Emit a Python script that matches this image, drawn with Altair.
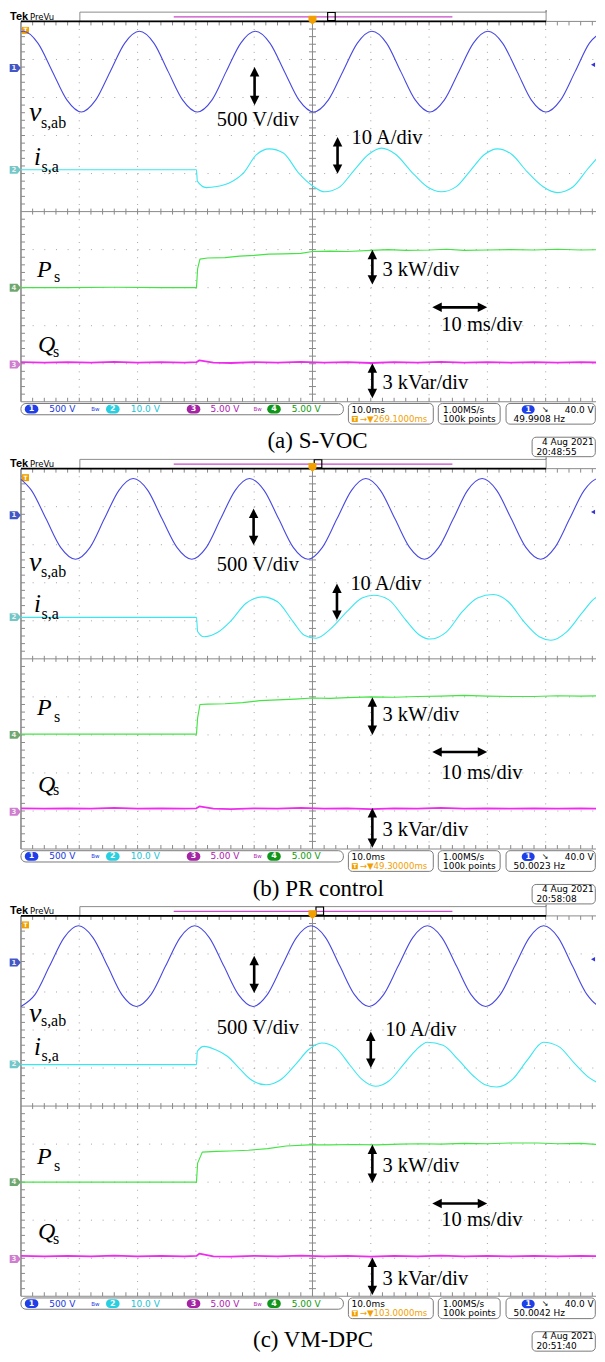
import altair as alt
import pandas as pd

# ======================= values read from the three scope screens =======================
# x: time in ms (10 ms/div, 0..100 ms across the 10 divisions)
# y: screen divisions (centre line = 0, top = +5, bottom = -5)

# ---- (a) S-VOC ----
A_V_T = [0.0, 0.4, 2.9, 5.4, 7.9, 10.35, 12.8, 15.3, 17.8, 20.3,
         22.8, 25.25, 27.75, 30.25, 32.75, 35.2, 37.7, 40.2,
         42.7, 45.2, 47.7, 50.2, 52.7, 55.2, 57.7, 60.2,
         62.7, 65.15, 67.65, 70.15, 72.6, 75.1, 77.6, 80.1,
         82.6, 85.1, 87.55, 90.05, 92.55, 95.05, 97.5, 99.8]
A_V_Y = [4.73, 4.74, 4.43, 3.68, 2.93, 2.62, 2.93, 3.68, 4.43, 4.74,
         4.43, 3.68, 2.93, 2.62, 2.93, 3.68, 4.43, 4.74,
         4.43, 3.68, 2.93, 2.62, 2.93, 3.68, 4.43, 4.74,
         4.43, 3.68, 2.93, 2.62, 2.93, 3.68, 4.43, 4.74,
         4.43, 3.68, 2.93, 2.62, 2.93, 3.68, 4.43, 4.73]
A_I_T = [0.0, 30.1, 30.25, 31.8, 33.6, 35.8, 38.3, 40.4, 42.6, 45.0, 47.6, 50.0,
         52.1, 54.5, 57.1, 59.6, 61.8, 64.3, 66.9, 69.6, 72.1, 74.6, 77.1, 79.5,
         81.7, 84.2, 86.8, 89.5, 92.0, 94.6, 97.2, 99.8]
A_I_Y = [1.10, 1.10, 0.80, 0.63, 0.66, 0.76, 1.04, 1.50, 1.65, 1.54, 1.02, 0.68,
         0.52, 0.63, 1.08, 1.50, 1.67, 1.50, 1.06, 0.66, 0.52, 0.65, 1.08, 1.50,
         1.65, 1.50, 1.05, 0.66, 0.50, 0.64, 1.12, 1.58]
A_P_T = [0.0, 8.0, 16.0, 24.0, 30.1, 30.3, 30.7, 32.0, 35.0, 37.5, 40.0, 42.5, 45.0,
         48.0, 50.0, 53.0, 56.0, 60.0, 63.0, 66.0, 70.0, 73.0, 76.0, 80.0, 84.0,
         88.0, 92.0, 96.0, 99.8]
A_P_Y = [-2.00, -2.00, -1.99, -2.00, -2.00, -1.50, -1.25, -1.22, -1.21, -1.17, -1.15,
         -1.12, -1.11, -1.10, -1.05, -1.04, -1.05, -1.02, -1.00, -1.02, -1.01, -0.99,
         -1.02, -1.01, -1.00, -1.01, -0.99, -1.01, -1.00]
A_Q_T = [0.0, 4.0, 8.0, 12.0, 16.0, 20.0, 24.0, 28.0, 30.1, 30.6, 33.0, 36.0, 40.0,
         44.0, 48.0, 52.0, 56.0, 60.0, 64.0, 68.0, 72.0, 76.0, 80.0, 84.0, 88.0,
         92.0, 96.0, 99.8]
A_Q_Y = [-3.96, -3.97, -3.96, -3.97, -3.95, -3.97, -3.96, -3.97, -3.96, -3.91, -3.97,
         -3.98, -3.96, -3.97, -3.95, -3.97, -3.96, -3.98, -3.96, -3.97, -3.95, -3.97,
         -3.96, -3.97, -3.96, -3.97, -3.96, -3.97]

# ---- (b) PR control ----
B_V_T = [0.0, 1.8, 4.3, 6.8, 9.35, 11.85, 14.3, 16.8, 19.25,
         21.75, 24.2, 26.75, 29.3, 31.8, 34.25, 36.75, 39.2,
         41.7, 44.2, 46.7, 49.25, 51.7, 54.2, 56.7, 59.15,
         61.65, 64.15, 66.65, 69.2, 71.65, 74.15, 76.6, 79.1,
         81.6, 84.1, 86.6, 89.15, 91.6, 94.1, 96.6, 99.05, 99.8]
B_V_Y = [4.72, 4.43, 3.68, 2.93, 2.62, 2.93, 3.68, 4.43, 4.74,
         4.43, 3.68, 2.93, 2.62, 2.93, 3.68, 4.43, 4.74,
         4.43, 3.68, 2.93, 2.62, 2.93, 3.68, 4.43, 4.74,
         4.43, 3.68, 2.93, 2.62, 2.93, 3.68, 4.43, 4.74,
         4.43, 3.68, 2.93, 2.62, 2.93, 3.68, 4.43, 4.74, 4.73]
B_I_T = [0.0, 30.1, 30.3, 31.4, 33.9, 35.9, 38.6, 41.4, 44.0, 46.7, 48.6, 50.6,
         53.2, 55.9, 58.5, 60.5, 63.1, 65.8, 68.4, 70.1, 73.0, 75.7, 78.3, 81.0,
         83.6, 86.3, 88.9, 90.9, 93.6, 96.2, 98.5, 99.8]
B_I_Y = [1.09, 1.09, 0.72, 0.58, 0.71, 0.98, 1.46, 1.63, 1.50, 0.97, 0.62, 0.54,
         0.80, 1.24, 1.60, 1.67, 1.55, 1.06, 0.62, 0.52, 0.71, 1.24, 1.60, 1.69,
         1.50, 0.97, 0.58, 0.49, 0.71, 1.20, 1.60, 1.67]
B_P_T = [0.0, 10.0, 20.0, 30.1, 30.3, 30.7, 32.0, 35.0, 38.0, 41.0, 44.0, 47.0, 50.0,
         53.0, 56.0, 60.0, 64.0, 68.0, 72.0, 76.0, 80.0, 84.0, 88.0, 92.0, 96.0, 99.8]
B_P_Y = [-1.98, -1.98, -1.98, -1.98, -1.55, -1.20, -1.19, -1.18, -1.15, -1.10, -1.08,
         -1.06, -1.03, -1.04, -1.02, -1.00, -1.01, -0.99, -0.98, -0.96, -0.98, -0.99,
         -0.99, -0.97, -0.98, -0.97]
B_Q_T = [0.0, 4.0, 8.0, 12.0, 16.0, 20.0, 24.0, 28.0, 30.1, 30.6, 33.0, 36.0, 40.0,
         44.0, 48.0, 52.0, 56.0, 60.0, 64.0, 68.0, 72.0, 76.0, 80.0, 84.0, 88.0,
         92.0, 96.0, 99.8]
B_Q_Y = [-3.93, -3.94, -3.93, -3.94, -3.92, -3.94, -3.93, -3.94, -3.93, -3.88, -3.94,
         -3.95, -3.93, -3.94, -3.92, -3.94, -3.93, -3.95, -3.93, -3.94, -3.92, -3.94,
         -3.93, -3.94, -3.93, -3.94, -3.93, -3.94]

# ---- (c) VM-DPC ----
C_V_T = [0.0, 2.4, 4.9, 7.4, 9.85, 12.35, 14.85, 17.3, 19.8,
         22.3, 24.8, 27.3, 29.8, 32.3, 34.8, 37.3, 39.8,
         42.25, 44.75, 47.25, 49.75, 52.25, 54.7, 57.2, 59.7,
         62.2, 64.7, 67.2, 69.7, 72.2, 74.7, 77.2, 79.7,
         82.2, 84.7, 87.2, 89.65, 92.15, 94.6, 97.1, 99.6, 99.8]
C_V_Y = [2.62, 2.93, 3.68, 4.43, 4.74, 4.43, 3.68, 2.93, 2.62,
         2.93, 3.68, 4.43, 4.74, 4.43, 3.68, 2.93, 2.62,
         2.93, 3.68, 4.43, 4.74, 4.43, 3.68, 2.93, 2.62,
         2.93, 3.68, 4.43, 4.74, 4.43, 3.68, 2.93, 2.62,
         2.93, 3.68, 4.43, 4.74, 4.43, 3.68, 2.93, 2.62, 2.62]
C_I_T = [0.0, 30.1, 30.25, 31.4, 33.4, 35.4, 37.4, 39.4, 42.0, 44.6, 47.3, 49.3,
         51.6, 54.0, 56.5, 58.5, 60.8, 63.1, 65.8, 67.8, 69.7, 72.4, 75.0, 77.6,
         79.6, 81.6, 84.3, 86.9, 89.6, 92.2, 94.9, 97.5, 99.8]
C_I_Y = [1.09, 1.09, 1.44, 1.57, 1.48, 1.31, 1.00, 0.70, 0.56, 0.70, 1.13, 1.48,
         1.66, 1.53, 1.06, 0.70, 0.52, 0.66, 1.13, 1.48, 1.68, 1.60, 1.22, 0.79,
         0.56, 0.50, 0.70, 1.22, 1.68, 1.57, 1.13, 0.74, 0.56]
C_P_T = [0.0, 10.0, 20.0, 30.1, 30.3, 31.1, 33.5, 36.0, 39.0, 42.3, 45.5, 49.4, 53.0,
         57.0, 61.0, 65.0, 68.6, 72.0, 76.0, 80.0, 84.0, 88.6, 92.0, 96.0, 99.7]
C_P_Y = [-2.00, -2.00, -2.00, -2.00, -1.50, -1.21, -1.19, -1.18, -1.16, -1.12, -1.05,
         -1.02, -1.02, -1.01, -1.02, -1.00, -0.99, -1.00, -0.98, -0.99, -0.97, -0.97,
         -0.99, -0.98, -1.02]
C_Q_T = [0.0, 4.0, 8.0, 12.0, 16.0, 20.0, 24.0, 28.0, 30.1, 30.6, 33.0, 36.0, 40.0,
         44.0, 48.0, 52.0, 56.0, 60.0, 64.0, 68.0, 72.0, 76.0, 80.0, 84.0, 88.0,
         92.0, 96.0, 99.8]
C_Q_Y = [-3.94, -3.95, -3.94, -3.95, -3.93, -3.95, -3.94, -3.95, -3.94, -3.88, -3.95,
         -3.96, -3.94, -3.95, -3.93, -3.95, -3.94, -3.96, -3.94, -3.95, -3.93, -3.95,
         -3.94, -3.95, -3.94, -3.95, -3.94, -3.95]

CAPTIONS = ["(a) S-VOC", "(b) PR control", "(c) VM-DPC"]
TRIG_POS = ["269.1000ms", "49.30000ms", "103.0000ms"]
FREQS = ["49.9908 Hz", "50.0023 Hz", "50.0042 Hz"]
DATES = ["4 Aug 2021", "4 Aug 2021", "4 Aug 2021"]
CLOCKS = ["20:48:55", "20:58:08", "20:51:40"]
CH_NUM = ["1", "2", "3", "4"]
CH_SCALE = ["500 V", "10.0 V", "5.00 V", "5.00 V"]
TIMEBASE = "10.0ms"
SAMPLE_RATE = "1.00MS/s"
RECORD = "100k points"
TRIG_LEVEL = "40.0 V"
DIV_LABELS = ["500 V/div", "10 A/div", "3 kW/div", "10 ms/div", "3 kVar/div"]

SERIES = [
    (A_V_T, A_V_Y, A_I_T, A_I_Y, A_P_T, A_P_Y, A_Q_T, A_Q_Y),
    (B_V_T, B_V_Y, B_I_T, B_I_Y, B_P_T, B_P_Y, B_Q_T, B_Q_Y),
    (C_V_T, C_V_Y, C_I_T, C_I_Y, C_P_T, C_P_Y, C_Q_T, C_Q_Y),
]
for s in SERIES:
    for k in range(0, 8, 2):
        assert len(s[k]) == len(s[k + 1])

# ======================= geometry =======================
W = 589            # 8px page margin on both sides inside a 605px window
HP = 448
PXD = 38.1         # px per vertical division
PXT = 5.84         # px per ms
X0 = -13 / PXT
X1 = X0 + W / PXT  # right edge of the visible screen (slightly before 100 ms)
Y_TOP = 5 + 11.3 / PXD
Y_BOT = Y_TOP - HP / PXD


def dy(px):
    return px / PXD


def dx(px):
    return px / PXT


def below(px):      # px below the graticule bottom
    return -5 - dy(px)


def frm_top(px):    # px below the graticule top
    return 5 - dy(px)


XS = alt.Scale(domain=[X0, X1], nice=False, zero=False)
YS = alt.Scale(domain=[Y_BOT, Y_TOP], nice=False, zero=False)


def xq():
    return alt.X("x:Q", scale=XS, axis=None)


def yq():
    return alt.Y("y:Q", scale=YS, axis=None)


def rule_layer(rows, **kw):
    df = pd.DataFrame(rows, columns=["x", "x2", "y", "y2"])
    return alt.Chart(df).mark_rule(**kw).encode(x=xq(), x2=alt.X2("x2"), y=yq(), y2=alt.Y2("y2"))


def rect_layer(rows, **kw):
    df = pd.DataFrame(rows, columns=["x", "x2", "y", "y2"])
    return alt.Chart(df).mark_rect(**kw).encode(x=xq(), x2=alt.X2("x2"), y=yq(), y2=alt.Y2("y2"))


def point_layer(rows, **kw):
    df = pd.DataFrame(rows, columns=["x", "y"])
    kw.setdefault("opacity", 1)
    kw.setdefault("filled", True)
    kw.setdefault("strokeWidth", 0)
    return alt.Chart(df).mark_point(**kw).encode(x=xq(), y=yq())


def text_layer(rows, **kw):
    df = pd.DataFrame(rows, columns=["x", "y", "t"])
    kw.setdefault("align", "left")
    kw.setdefault("baseline", "middle")
    return alt.Chart(df).mark_text(**kw).encode(x=xq(), y=yq(), text="t:N")


def line_layer(ts, ys, color, width, interp):
    df = pd.DataFrame({"x": ts, "y": ys})
    return alt.Chart(df).mark_line(color=color, strokeWidth=width, interpolate=interp,
                                   strokeJoin="round", clip=True).encode(x=xq(), y=yq())


UP = "M0,0L1,2L-1,2Z"
DOWN = "M0,0L1,-2L-1,-2Z"
LEFT = "M0,0L2,-1L2,1Z"
RIGHT = "M0,0L-2,-1L-2,1Z"
HEAD = 90


def varrow(x, yt, yb):
    return [
        rule_layer([(x, x, yt - dy(5), yb + dy(5))], color="black", strokeWidth=2.6),
        point_layer([(x, yt)], shape=UP, size=HEAD, color="black"),
        point_layer([(x, yb)], shape=DOWN, size=HEAD, color="black"),
    ]


def harrow(xl, xr, y):
    return [
        rule_layer([(xl + dx(5), xr - dx(5), y, y)], color="black", strokeWidth=2.6),
        point_layer([(xl, y)], shape=LEFT, size=HEAD, color="black"),
        point_layer([(xr, y)], shape=RIGHT, size=HEAD, color="black"),
    ]


LAYOUT = [
    dict(vtxt=2.41, varr=(40.07, 3.80, 2.795), atxt=(56.7, 1.937), aarr=(54.3, 1.963, 0.992),
         ptxt=-1.53, parr=(-1.003, -1.92), mstxt=-2.97, msarr=-2.517, qtxt=-4.51,
         qarr=(-3.987, -4.906), v=2.37, vs=2.20, i=1.228, isub=1.03, P=-1.711, Ps=-1.843,
         Q=-3.68, Qs=-3.81, cap=(50.86, below(46.4)), brk=(52.6, 53.9)),
    dict(vtxt=2.46, varr=(39.9, 3.95, 2.99), atxt=(56.5, 1.98), aarr=(54.2, 1.98, 1.02),
         ptxt=-1.48, parr=(-1.01, -2.0), mstxt=-3.0, msarr=-2.45, qtxt=-4.5,
         qarr=(-3.92, -4.97), v=2.30, vs=2.155, i=1.236, isub=1.04, P=-1.475, Ps=-1.65,
         Q=-3.49, Qs=-3.575, cap=(51.0, below(47.4)), brk=(50.3, 51.6)),
    dict(vtxt=2.05, varr=(40.0, 3.95, 2.97), atxt=(62.5, 1.99), aarr=(60.0, 1.96, 1.0),
         ptxt=-1.58, parr=(-1.01, -2.02), mstxt=-3.0, msarr=-2.56, qtxt=-4.55,
         qarr=(-3.98, -4.97), v=2.20, vs=2.095, i=1.35, isub=1.176, P=-1.535, Ps=-1.711,
         Q=-3.50, Qs=-3.635, cap=(50.1, below(50.5)), brk=(50.6, 51.9)),
]

GRID = "#a3a3a3"
FRAME = "#8a8a8a"
SERIF = "Liberation Serif"
SANS = "DejaVu Sans"
ORANGE = "#f2a000"
CH_TEXT = ["#2038e0", "#18c4d4", "#b020b0", "#109a10"]
CH_FILL = ["#1f3fe8", "#28cfe0", "#a424a4", "#10961a"]
TRACE = {"v": "#4848e2", "i": "#3ae6f0", "p": "#45e445", "q": "#ee2cee"}


def panel(k):
    vt, vy, it, iy, pt, py, qt, qy = SERIES[k]
    lay = LAYOUT[k]
    L = []

    # ---- graticule ----
    L.append(rule_layer([(t, t, 5, -5) for t in [10, 20, 30, 40, 60, 70, 80, 90]],
                        color=GRID, strokeWidth=1, strokeDash=[1, PXD / 5 - 1]))
    L.append(rule_layer([(0, X1, y, y) for y in [-4, -3, -2, -1, 1, 2, 3, 4]],
                        color=GRID, strokeWidth=1, strokeDash=[1, 10.68]))
    ticks = []
    minor_t = [2 * j for j in range(1, 50)]
    minor_y = [round(0.2 * j, 1) for j in range(-24, 25) if j != 0]
    for t in minor_t:
        if t > X1:
            continue
        ticks.append((t, t, -dy(3), dy(3)))
        ticks.append((t, t, -5, -5 + dy(4)))
        ticks.append((t, t, 5, 5 - dy(4)))
    for y in minor_y:
        ticks.append((50 - dx(3.5), 50 + dx(3.5), y, y))
        ticks.append((0, dx(4), y, y))
    L.append(rule_layer(ticks, color=FRAME, strokeWidth=1))
    L.append(rule_layer([(50, 50, 5, -5), (0, X1, 0, 0), (0, X1, -5, -5), (90.07, X1, 5, 5)],
                        color=FRAME, strokeWidth=1))
    L.append(rule_layer([(0, 0, 5, -5)], color=FRAME, strokeWidth=1.6))

    # ---- top record bar ----
    bar_top = 5 + dy(9.3)
    L.append(rect_layer([(10.1, 90.07, 5, bar_top)], fill="white", stroke="#8c8c8c", strokeWidth=1))
    L.append(rule_layer([(26.2, 74.0, 5 + dy(4.6), 5 + dy(4.6))], color="#c848c8", strokeWidth=1.2))
    L.append(rule_layer([(0, 90.07, 5, 5)], color="black", strokeWidth=1.6))
    L.append(rule_layer([(90.07, 90.07, bar_top, Y_TOP)], color="#555555", strokeWidth=1))
    b0, b1 = lay["brk"]
    L.append(rect_layer([(b0, b1, 5.02, bar_top - 0.01)], fill="white", fillOpacity=0,
                        stroke="black", strokeWidth=1.2))
    L.append(point_layer([(50, 5 + dy(1.3))], shape="M-1,-1.1L1,-1.1L1,0.2L0,1.1L-1,0.2Z",
                         size=64, color=ORANGE))
    L.append(text_layer([(-1.88, 5 + dy(4.6), "Tek")], font="Liberation Sans", fontSize=11,
                        fontWeight="bold", color="black"))
    L.append(text_layer([(1.54, 5 + dy(4.6), "PreVu")], font=SANS, fontSize=8.5, color="black"))
    L.append(point_layer([(0.77, frm_top(9))], shape="square", size=49, color=ORANGE))
    L.append(text_layer([(0.77, frm_top(9), "T")], font=SANS, fontSize=6, fontWeight="bold",
                        color="white", align="center"))

    # ---- channel reference markers ----
    marker = "M-1,-0.75L0.45,-0.75L1.1,0L0.45,0.75L-1,0.75Z"
    mk = [(frm_top(46.7), "1", "#4357c6"), (frm_top(148.7), "2", "#72c8c8"),
          (frm_top(266.7), "4", "#6fa86f"), (frm_top(343.7), "3", "#d07cd0")]
    for yv, num, col in mk:
        L.append(point_layer([(-1.03, yv)], shape=marker, size=112, color=col))
        L.append(text_layer([(-1.2, yv, num)], font=SANS, fontSize=7, fontWeight="bold",
                            color="#eeeeee", align="center"))
    L.append(point_layer([(X1 - dx(3), frm_top(43.4))], shape="triangle-left", size=22, color="#3636d6"))

    # ---- traces ----
    L.append(line_layer(vt, vy, TRACE["v"], 1.1, "monotone"))
    L.append(line_layer(it, iy, TRACE["i"], 1.1, "monotone"))
    L.append(line_layer(pt, py, TRACE["p"], 1.15, "linear"))
    L.append(line_layer(qt, qy, TRACE["q"], 1.8, "linear"))

    # ---- annotations ----
    vx, vyt, vyb = lay["varr"]
    L += varrow(vx, vyt, vyb)
    ax, ayt, ayb = lay["aarr"]
    L += varrow(ax, ayt, ayb)
    L += varrow(60.27, *lay["parr"])
    L += varrow(60.27, *lay["qarr"])
    L += harrow(70.55, 79.97, lay["msarr"])
    L.append(text_layer([(33.6, lay["vtxt"], DIV_LABELS[0]),
                         (lay["atxt"][0], lay["atxt"][1], DIV_LABELS[1]),
                         (62.0, lay["ptxt"], DIV_LABELS[2]),
                         (72.1, lay["mstxt"], DIV_LABELS[3]),
                         (62.0, lay["qtxt"], DIV_LABELS[4])],
                        font=SERIF, fontSize=20.5, color="black"))

    # symbol labels
    L.append(text_layer([(1.37, lay["v"], "v")], font=SERIF, fontSize=28, fontStyle="italic",
                        color="black", baseline="alphabetic"))
    L.append(text_layer([(2.23, lay["i"], "i")], font=SERIF, fontSize=25, fontStyle="italic",
                        color="black", baseline="alphabetic"))
    L.append(text_layer([(2.74, lay["P"], "P"), (2.91, lay["Q"], "Q")], font=SERIF, fontSize=24,
                        fontStyle="italic", color="black", baseline="alphabetic"))
    L.append(text_layer([(3.42, lay["vs"], "s,ab"), (3.51, lay["isub"], "s,a"),
                         (5.65, lay["Ps"], "s"), (5.48, lay["Qs"], "s")],
                        font=SERIF, fontSize=16, color="black", baseline="alphabetic"))

    # ---- status bar ----
    sb_t, sb_b = below(1.7), below(13)
    bx_t, bx_b = below(1.7), below(22.4)
    l1, l2 = below(7.8), below(17.2)
    L.append(rect_layer([(0, 55.3, sb_t, sb_b)], fill="white", stroke="#7a7a7a",
                        strokeWidth=1, cornerRadius=5))
    L.append(rect_layer([(56.16, 70.72, bx_t, bx_b), (71.58, 82.19, bx_t, bx_b),
                         (83.2, X1 - 0.12, bx_t, bx_b)],
                        fill="white", stroke="#7a7a7a", strokeWidth=1, cornerRadius=4))
    sb_mid = below(7.4)
    ell_c = [1.82, 15.75, 29.6, 43.4]
    txt_x = [4.84, 18.84, 32.5, 46.45]
    for j in range(4):
        L.append(rect_layer([(ell_c[j] - dx(6.8), ell_c[j] + dx(6.8), sb_mid + dy(4.3), sb_mid - dy(4.3))],
                            fill=CH_FILL[j], cornerRadius=4.3))
        L.append(text_layer([(ell_c[j], sb_mid, CH_NUM[j])], font=SANS, fontSize=8, fontWeight="bold",
                            color="white", align="center"))
        L.append(text_layer([(txt_x[j], sb_mid, CH_SCALE[j])], font=SANS, fontSize=9,
                            color=CH_TEXT[j]))
    L.append(text_layer([(12.76, sb_mid, "Bw")], font=SANS, fontSize=5.5, color=CH_TEXT[0], align="center"))
    L.append(text_layer([(40.6, sb_mid, "Bw")], font=SANS, fontSize=5.5, color=CH_TEXT[2], align="center"))

    L.append(text_layer([(56.68, l1, TIMEBASE), (72.4, l1, SAMPLE_RATE), (72.4, l2, RECORD)],
                        font=SANS, fontSize=9, color="black"))
    L.append(point_layer([(57.25, l2)], shape="square", size=36, color=ORANGE))
    L.append(text_layer([(57.25, l2, "T")], font=SANS, fontSize=5.5, fontWeight="bold",
                        color="white", align="center"))
    L.append(text_layer([(58.1, l2, "\u2192\u25BC" + TRIG_POS[k])], font=SANS, fontSize=8.6,
                        color=ORANGE))
    L.append(rect_layer([(87.0 - dx(6.5), 87.0 + dx(6.5), l1 + dy(4.3), l1 - dy(4.3))],
                        fill=CH_FILL[0], cornerRadius=4.3))
    L.append(text_layer([(87.0, l1, "1")], font=SANS, fontSize=8, fontWeight="bold",
                        color="white", align="center"))
    L.append(text_layer([(89.9, l1, "\u2198")], font=SANS, fontSize=8, color="black", align="center"))
    L.append(text_layer([(X1 - dx(2.3), l1, TRIG_LEVEL)], font=SANS, fontSize=9, color="black",
                        align="right"))
    L.append(text_layer([(84.5, l2, FREQS[k])], font=SANS, fontSize=9, color="black"))

    # ---- caption + date box ----
    cx, cy = lay["cap"]
    L.append(text_layer([(cx, cy, CAPTIONS[k])], font=SERIF, fontSize=23, color="black",
                        align="center", baseline="alphabetic"))
    L.append(rect_layer([(X1 - dx(64), X1 - 0.12, below(35.5), below(55))], fill="white",
                        stroke="#7a7a7a", strokeWidth=1, cornerRadius=4))
    L.append(text_layer([(X1 - dx(2.3), below(39.9), DATES[k])], font=SANS, fontSize=9,
                        color="black", align="right"))
    L.append(text_layer([(X1 - dx(59.7), below(49.9), CLOCKS[k])], font=SANS, fontSize=9,
                        color="black"))

    return alt.layer(*L).properties(width=W, height=HP)


chart = alt.vconcat(panel(0), panel(1), panel(2), spacing=0, bounds="flush").properties(
    padding=0, background="white"
).configure_view(stroke=None)

chart.save("out.html", embed_options={"renderer": "svg", "actions": False})
